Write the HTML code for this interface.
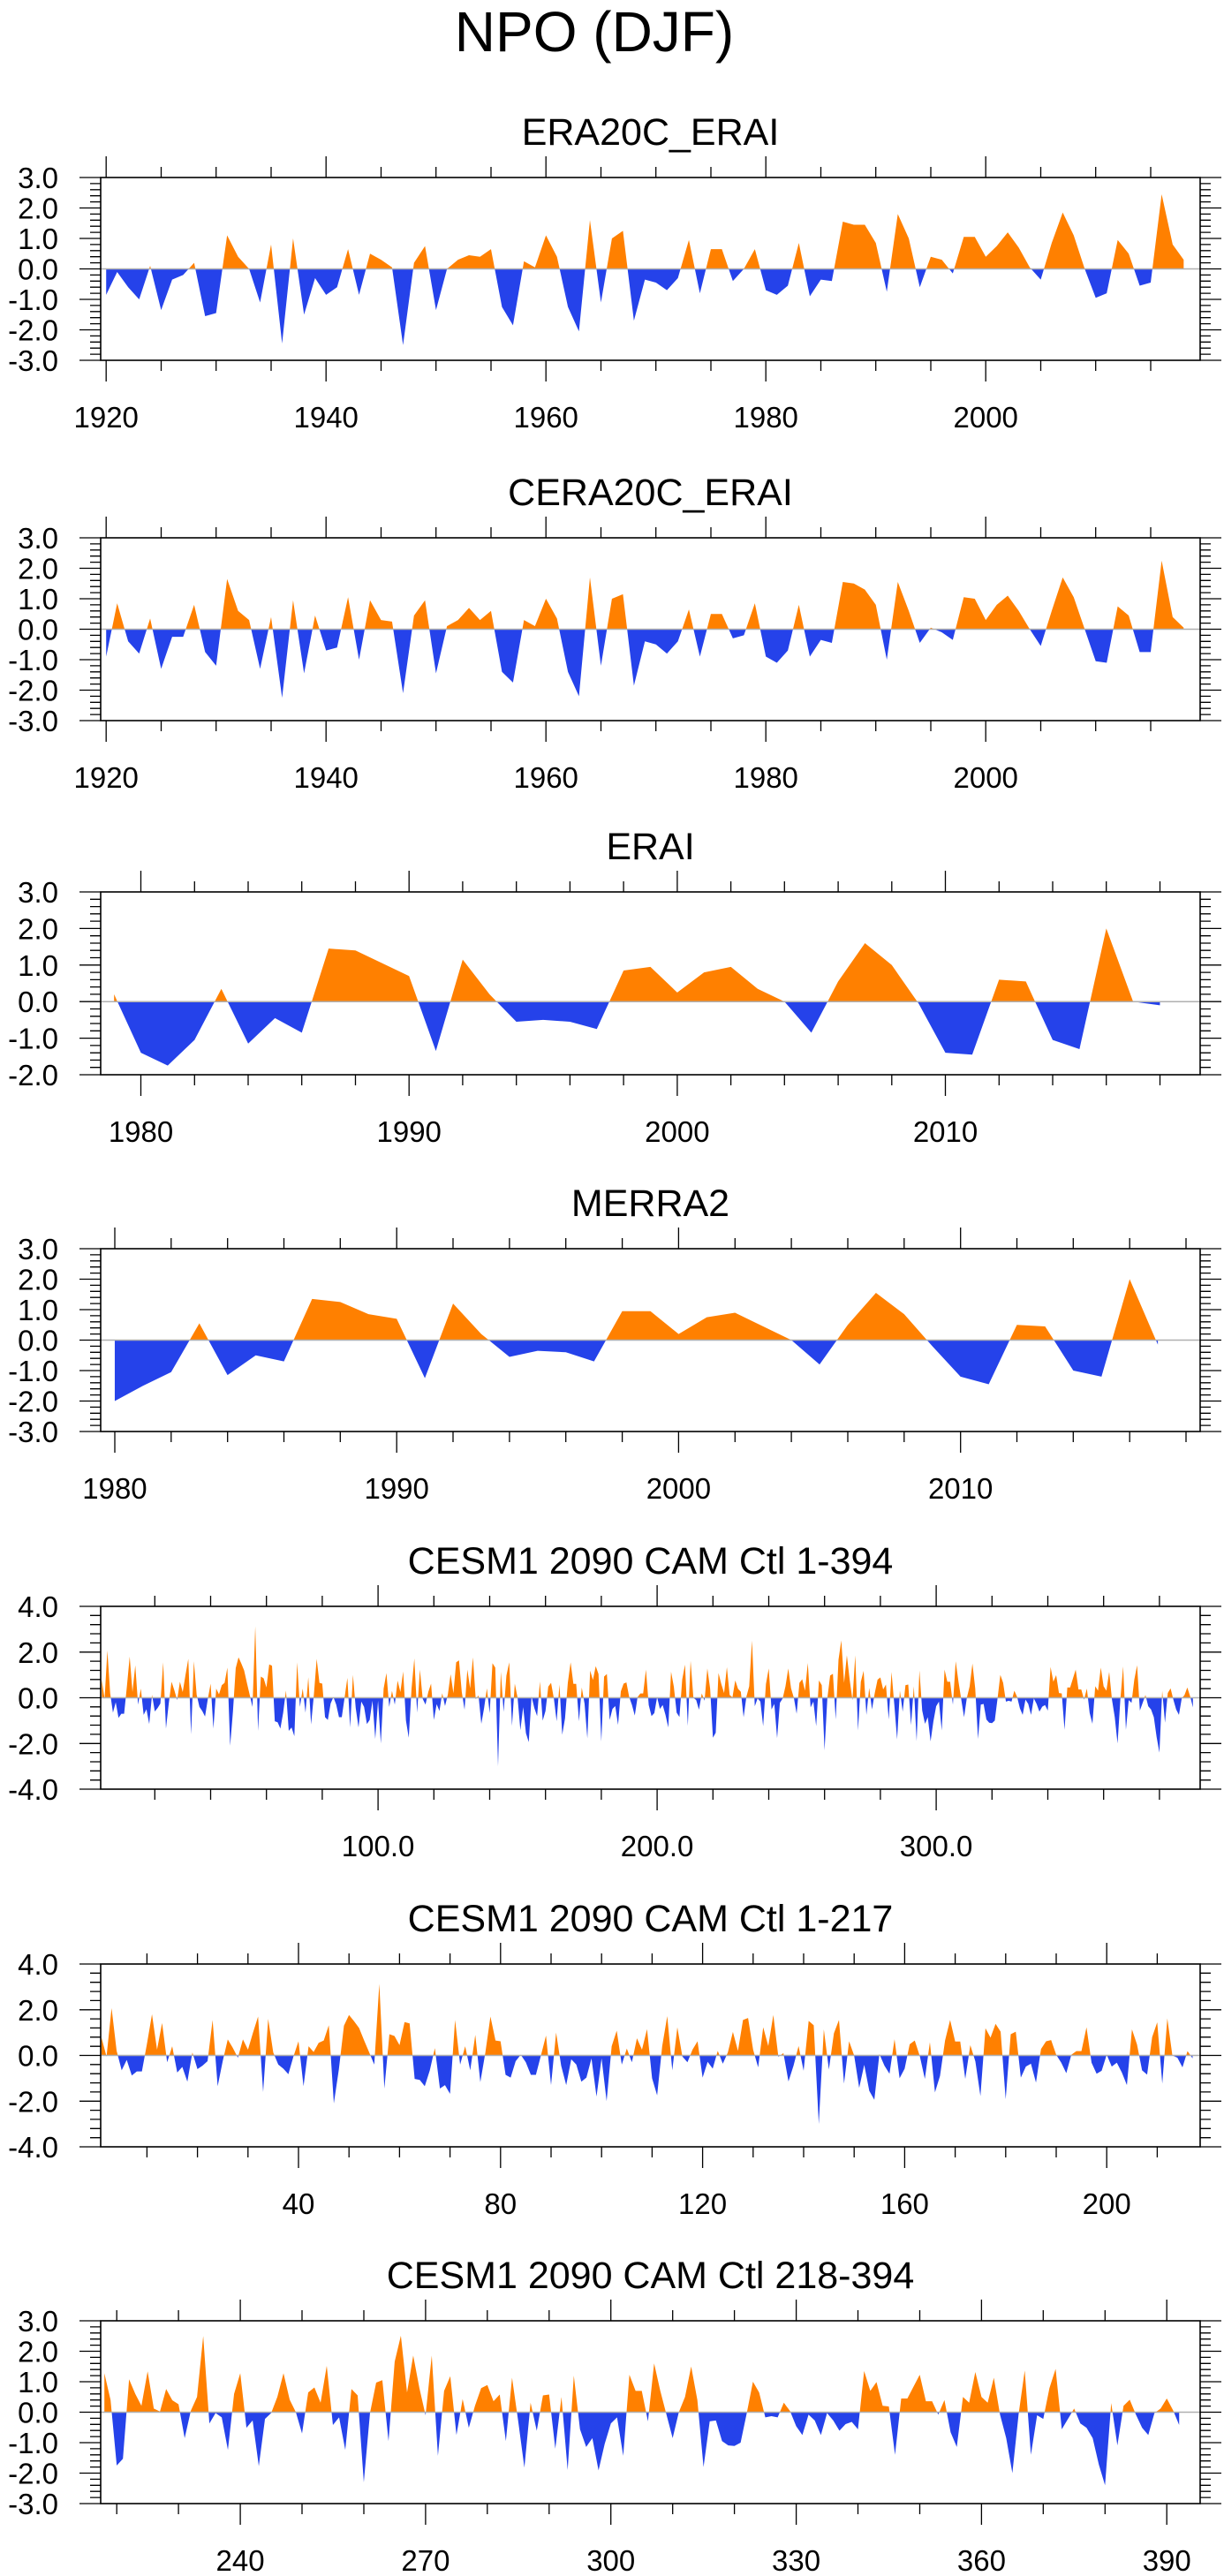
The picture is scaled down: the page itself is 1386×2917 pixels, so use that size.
<!DOCTYPE html>
<html><head><meta charset="utf-8"><title>NPO (DJF)</title>
<style>
html,body{margin:0;padding:0;background:#fff;}
svg{display:block;}
text{font-family:"Liberation Sans",Arial,sans-serif;fill:#000;}
</style></head>
<body>
<svg id="chart" width="1386" height="2917" viewBox="0 0 1386 2917" xmlns="http://www.w3.org/2000/svg">
<rect width="1386" height="2917" fill="#fff"/>
<text x="673" y="58" font-size="64" text-anchor="middle">NPO (DJF)</text>
</svg>
<script>
// ---- data ----
const era20cYears = [];
for (let y = 1920; y <= 2018; y++) era20cYears.push(y);
const era20cValues = [-0.85,-0.1,-0.6,-1.0,0.1,-1.35,-0.35,-0.2,0.2,-1.55,-1.45,1.1,0.4,0.0,-1.1,0.8,-2.45,1.0,-1.5,-0.3,
-0.85,-0.6,0.65,-0.85,0.5,0.3,0.05,-2.5,0.2,0.75,-1.35,0.0,0.3,0.45,0.4,0.65,-1.25,-1.85,0.25,0.05,
1.1,0.4,-1.25,-2.05,1.6,-1.1,1.0,1.25,-1.7,-0.35,-0.45,-0.7,-0.3,0.95,-0.8,0.65,0.65,-0.4,0.0,0.65,
-0.7,-0.85,-0.55,0.85,-0.9,-0.35,-0.4,1.55,1.45,1.45,0.85,-0.75,1.8,1.0,-0.6,0.4,0.3,-0.15,1.05,1.05,
0.4,0.75,1.2,0.7,0.05,-0.35,0.85,1.85,1.1,0.0,-0.95,-0.8,0.95,0.5,-0.55,-0.45,2.45,0.8,0.3];
const cera20cValues = [-0.9,0.85,-0.4,-0.8,0.35,-1.3,-0.25,-0.25,0.8,-0.75,-1.2,1.65,0.6,0.3,-1.3,0.4,-2.25,0.95,-1.45,0.45,
-0.7,-0.6,1.05,-1.0,0.95,0.3,0.25,-2.1,0.45,0.95,-1.45,0.1,0.3,0.7,0.3,0.6,-1.4,-1.75,0.3,0.1,
1.0,0.35,-1.4,-2.2,1.7,-1.2,1.0,1.15,-1.85,-0.4,-0.5,-0.8,-0.4,0.65,-0.9,0.5,0.5,-0.3,-0.2,0.85,
-0.9,-1.1,-0.7,0.8,-0.9,-0.35,-0.45,1.55,1.5,1.3,0.8,-1.0,1.55,0.6,-0.45,0.05,-0.1,-0.35,1.05,1.0,
0.3,0.8,1.1,0.6,0.0,-0.55,0.6,1.7,1.05,0.0,-1.05,-1.1,0.75,0.45,-0.75,-0.75,2.25,0.4,0.05];
const eraiYears = [];
for (let y = 1979; y <= 2018; y++) eraiYears.push(y);
const eraiValues = [0.2,-1.4,-1.75,-1.05,0.35,-1.15,-0.45,-0.85,1.45,1.4,1.05,0.7,-1.35,1.15,0.2,-0.55,-0.5,-0.55,-0.75,0.85,
0.95,0.25,0.8,0.95,0.35,0.0,-0.85,0.55,1.6,1.0,-0.05,-1.4,-1.45,0.6,0.55,-1.05,-1.3,2.0,0.0,-0.1];
const merraYears = [];
for (let y = 1980; y <= 2017; y++) merraYears.push(y);
const merraValues = [-2.0,-1.5,-1.05,0.55,-1.15,-0.5,-0.7,1.35,1.25,0.85,0.7,-1.25,1.2,0.2,-0.55,-0.35,-0.4,-0.7,0.95,0.95,
0.2,0.75,0.9,0.45,0.0,-0.8,0.5,1.55,0.85,-0.2,-1.2,-1.45,0.5,0.45,-1.0,-1.2,2.0,-0.15];
const cesmFirstValues = [0.78,-0.05,2.07,0.2,-0.65,-0.2,-0.88,-0.7,-0.7,0.5,1.8,0.25,1.42,-0.3,0.4,-0.75,-0.5,-1.15,0.13,-0.6,
-0.45,-0.25,1.55,-1.35,-0.25,0.7,0.33,-0.1,0.7,0.25,1.0,1.7,-1.6,1.6,0.13,-0.4,-0.58,-0.82,-0.05,0.62,
-1.35,0.4,0.15,0.55,0.65,1.32,-2.1,-0.6,1.3,1.77,1.5,1.2,0.65,0.13,-0.4,3.13,-1.45,0.93,0.85,0.45,
1.46,1.4,-1.03,-1.07,-1.35,-0.65,0.32,-1.45,-1.3,-1.68,1.55,-0.4,0.4,-0.65,0.9,-1.17,0.13,1.7,0.65,0.62,
-0.85,-0.97,-0.25,0.03,-0.3,-0.85,-0.85,0.0,0.87,-1.3,1.0,-0.45,-1.3,-0.17,-0.4,-1.15,-0.97,-0.13,-1.8,-0.13,
-2.0,0.4,1.08,-0.4,0.3,-0.3,0.75,0.25,1.15,-1.0,-1.75,0.4,1.72,-0.65,1.23,-0.05,-0.3,0.25,0.62,-0.97,
-0.28,-0.58,0.2,-0.36,0.13,1.03,0.2,1.55,1.64,0.25,-0.52,1.23,0.41,1.77,-0.06,0.1,-1.14,-0.45,0.41,-0.67,
1.51,1.32,-3.0,1.14,-0.62,0.97,1.55,-1.23,0.62,0.0,-1.42,-0.41,-1.55,-1.94,0.06,-0.45,-0.8,0.71,-1.0,-0.58,
0.49,0.65,-0.03,-1.03,0.58,-1.62,-0.9,0.65,1.55,0.61,0.61,-1.03,0.45,-0.26,-1.78,1.19,0.78,1.38,1.04,-1.92,
0.93,1.04,-0.97,-0.49,-0.36,-1.19,0.28,0.62,0.67,0.03,-0.32,-0.78,0.03,0.19,0.19,1.23,-0.32,-0.8,-0.67,0.03,
-0.49,-0.32,-0.75,-1.3,1.14,0.48,-0.65,-0.84,0.8,1.45,-1.23,1.62,0.0,-0.1,-0.52,0.19,-0.13];
const cesmSecondValues = [1.28,0.4,-1.75,-1.53,1.08,0.6,0.21,1.34,0.12,0.02,0.76,0.39,0.26,-0.85,0.05,0.5,2.5,-0.37,-0.03,-0.17,
-1.24,0.6,1.28,-0.51,-0.27,-1.77,-0.22,-0.03,0.5,1.28,0.41,0.0,-0.7,0.65,0.81,0.31,1.52,-0.42,-0.17,-1.24,
0.76,0.55,-2.3,-0.03,0.97,1.05,-0.95,1.66,2.51,0.65,1.86,0.79,-0.1,1.86,-1.43,0.7,1.18,-0.75,0.43,-0.51,
0.21,0.79,0.89,0.36,0.58,-0.95,1.13,-0.3,-1.82,0.31,-0.61,0.55,0.58,-1.2,0.5,-1.9,1.2,-0.56,-1.14,-0.85,
-1.91,-1.04,-0.37,-0.17,-1.43,1.23,0.7,0.7,-0.3,1.6,0.7,-0.08,-0.85,0.0,0.5,1.5,0.4,-1.8,-0.3,-0.27,
-0.95,-1.09,-1.11,-1.0,-0.03,1.0,0.65,-0.17,-0.13,-0.17,0.31,0.04,-0.46,-0.75,-0.08,-0.27,-0.75,-0.03,-0.27,-0.61,
-0.39,-0.32,-0.56,1.35,0.7,0.99,0.21,0.19,-1.4,0.45,0.45,0.84,1.23,0.36,0.36,-0.08,0.4,-0.66,-1.14,0.5,
0.31,1.32,0.5,0.31,1.13,-0.08,-0.85,-2.0,-0.08,1.37,-1.4,-0.1,-0.22,0.79,1.42,-0.56,-0.22,0.12,-0.37,-0.51,
-0.85,-1.72,-2.4,0.3,-1.09,0.21,0.41,-0.08,-0.51,-0.75,-0.03,0.12,0.45,0.07,-0.42];
const cesmFirstIndex = cesmFirstValues.map((v, i) => i + 1);
const cesmSecondIndex = cesmSecondValues.map((v, i) => i + 218);
const cesmAllValues = cesmFirstValues.concat(cesmSecondValues);
const cesmAllIndex = cesmAllValues.map((v, i) => i + 1);

const era20cTicks = [1920, 1940, 1960, 1980, 2000];
const eraiTicks = [1980, 1990, 2000, 2010];
const merraTicks = [1980, 1990, 2000, 2010];
const cesmAllTicks = [100, 200, 300];
const cesmFirstTicks = [40, 80, 120, 160, 200];
const cesmSecondTicks = [240, 270, 300, 330, 360, 390];

// ---- drawing ----
const NS = 'http://www.w3.org/2000/svg';
const svg = document.getElementById('chart');
const LEFT = 114, RIGHT = 1359, H = 207;
function mk(tag, attrs, parent) {
  const e = document.createElementNS(NS, tag);
  for (const k in attrs) e.setAttribute(k, attrs[k]);
  parent.appendChild(e);
  return e;
}
function panel(cfg) {
  const g = mk('g', {}, svg);
  
  
  const top = cfg.top, bot = top + H;
  const sx = x => LEFT + (x - cfg.xmin) / (cfg.xmax - cfg.xmin) * (RIGHT - LEFT);
  const sy = v => top + (cfg.ymax - v) / (cfg.ymax - cfg.ymin) * H;
  const t = mk('text', {x: (LEFT + RIGHT) / 2, y: top - 37, 'font-size': 43, 'text-anchor': 'middle'}, g);
  t.textContent = cfg.title;
  
  
  const xs = cfg.xs, vs = cfg.vs;
  [1, -1].forEach(sign => {
    const pts = [[sx(xs[0]), sy(0)]];
    for (let i = 0; i < xs.length; i++) {
      if (i > 0 && (vs[i - 1] * sign > 0) !== (vs[i] * sign > 0) && vs[i - 1] !== 0 && vs[i] !== 0) {
        const f = vs[i - 1] / (vs[i - 1] - vs[i]);
        pts.push([sx(xs[i - 1] + f * (xs[i] - xs[i - 1])), sy(0)]);
      }
      const v = sign > 0 ? Math.max(vs[i], 0) : Math.min(vs[i], 0);
      pts.push([sx(xs[i]), sy(v)]);
    }
    pts.push([sx(xs[xs.length - 1]), sy(0)]);
    const p = mk('polygon', {points: pts.map(q => q[0].toFixed(2) + ',' + q[1].toFixed(2)).join(' '),
      fill: sign > 0 ? '#ff8000' : '#2542ea'}, g);
    
    
  });
  const zl = mk('line', {x1: LEFT, x2: RIGHT, y1: sy(0), y2: sy(0), stroke: '#b0b0b0', 'stroke-width': 1.5}, g);
  
  
  let d = '';
  const minStart = Math.ceil(cfg.xmin / cfg.xminor) * cfg.xminor;
  for (let x = minStart; x <= cfg.xmax + 1e-9; x += cfg.xminor) {
    const X = sx(x).toFixed(1);
    const major = cfg.xticks.some(m => Math.abs(m - x) < 1e-6) || (cfg.xmajorStep && Math.abs(Math.round(x / cfg.xmajorStep) * cfg.xmajorStep - x) < 1e-6);
    const L = major ? 24 : 12;
    d += `M${X},${top}V${top - L}M${X},${bot}V${bot + L}`;
  }
  const ys = cfg.yminor;
  const n = Math.round((cfg.ymax - cfg.ymin) / ys);
  for (let k = 0; k <= n; k++) {
    const v = cfg.ymin + k * ys;
    const Y = sy(v).toFixed(1);
    const major = Math.abs(Math.round(v / cfg.ymajor) * cfg.ymajor - v) < 1e-6;
    const L = major ? 24 : 12;
    d += `M${LEFT},${Y}H${LEFT - L}M${RIGHT},${Y}H${RIGHT + L}`;
  }
  const tk = mk('path', {d: d, stroke: '#000', 'stroke-width': 1.3, fill: 'none'}, g);
  
  
  const fr = mk('rect', {x: LEFT, y: top, width: RIGHT - LEFT, height: H, fill: 'none', stroke: '#000', 'stroke-width': 1.6}, g);
  
  
  cfg.xticks.forEach(x => {
    const l = mk('text', {x: sx(x), y: bot + 76, 'font-size': 33, 'text-anchor': 'middle'}, g);
    l.textContent = cfg.xfmt ? x.toFixed(1) : String(x);
    
    
  });
  for (let v = cfg.ymin; v <= cfg.ymax + 1e-9; v += cfg.ymajor) {
    const l = mk('text', {x: 66, y: sy(v) + 12, 'font-size': 33, 'text-anchor': 'end'}, g);
    l.textContent = v.toFixed(1);
    
    
  }
}
panel({name: 'panel-era20c-erai', title: 'ERA20C_ERAI', top: 201, ymin: -3, ymax: 3, ymajor: 1, yminor: 0.2,
  xmin: 1919.5, xmax: 2019.5, xticks: era20cTicks, xmajorStep: 20, xminor: 5, xs: era20cYears, vs: era20cValues});
panel({name: 'panel-cera20c-erai', title: 'CERA20C_ERAI', top: 609, ymin: -3, ymax: 3, ymajor: 1, yminor: 0.2,
  xmin: 1919.5, xmax: 2019.5, xticks: era20cTicks, xmajorStep: 20, xminor: 5, xs: era20cYears, vs: cera20cValues});
panel({name: 'panel-erai', title: 'ERAI', top: 1010, ymin: -2, ymax: 3, ymajor: 1, yminor: 0.2,
  xmin: 1978.5, xmax: 2019.5, xticks: eraiTicks, xmajorStep: 10, xminor: 2, xs: eraiYears, vs: eraiValues});
panel({name: 'panel-merra2', title: 'MERRA2', top: 1414, ymin: -3, ymax: 3, ymajor: 1, yminor: 0.2,
  xmin: 1979.5, xmax: 2018.5, xticks: merraTicks, xmajorStep: 10, xminor: 2, xs: merraYears, vs: merraValues});
panel({name: 'panel-cesm-1-394', title: 'CESM1 2090 CAM Ctl 1-394', top: 1819, ymin: -4, ymax: 4, ymajor: 2, yminor: 0.4,
  xmin: 0.6, xmax: 394.6, xticks: cesmAllTicks, xmajorStep: 100, xminor: 20, xfmt: true, xs: cesmAllIndex, vs: cesmAllValues});
panel({name: 'panel-cesm-1-217', title: 'CESM1 2090 CAM Ctl 1-217', top: 2224, ymin: -4, ymax: 4, ymajor: 2, yminor: 0.4,
  xmin: 0.84, xmax: 218.5, xticks: cesmFirstTicks, xmajorStep: 40, xminor: 10, xs: cesmFirstIndex, vs: cesmFirstValues});
panel({name: 'panel-cesm-218-394', title: 'CESM1 2090 CAM Ctl 218-394', top: 2628, ymin: -3, ymax: 3, ymajor: 1, yminor: 0.2,
  xmin: 217.4, xmax: 395.4, xticks: cesmSecondTicks, xmajorStep: 30, xminor: 10, xs: cesmSecondIndex, vs: cesmSecondValues});
</script>
</body></html>
